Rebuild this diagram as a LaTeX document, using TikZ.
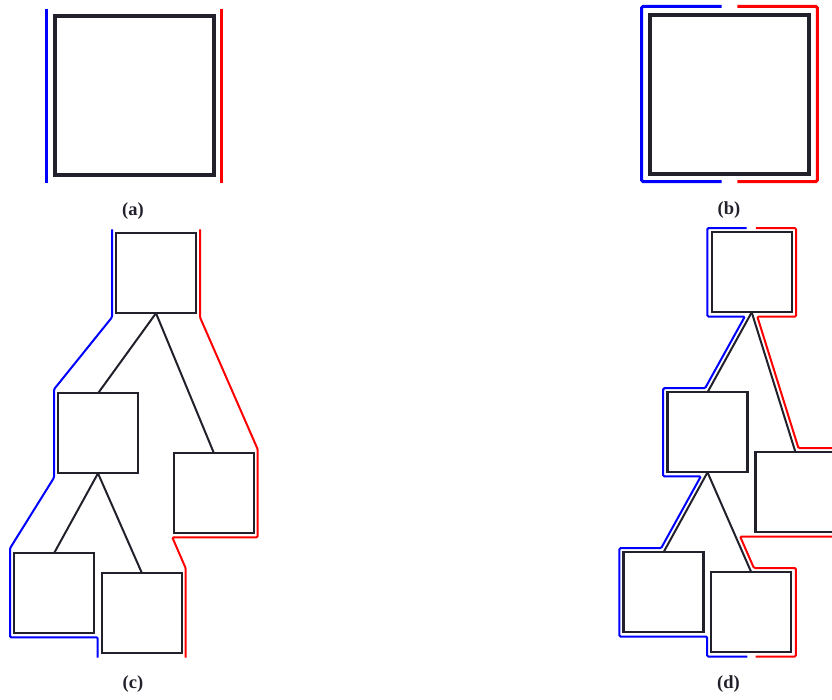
\documentclass[tikz,border=0pt]{standalone}
\usepackage{fontspec}
\newfontfamily\sublabelfamily{Liberation Serif}
\usetikzlibrary{calc}
\definecolor{boxline}{RGB}{34,32,42}
\definecolor{lcont}{RGB}{0,0,255}
\definecolor{rcont}{RGB}{255,0,0}
\tikzset{
  bigbox/.style={draw=boxline, line width=4pt, rectangle, minimum width=159pt, minimum height=159pt, inner sep=0pt, outer sep=0pt},
  treebox/.style={draw=boxline, line width=2.1pt, rectangle, minimum size=80pt, inner sep=0pt, outer sep=0pt},
  treeedge/.style={draw=boxline, line width=2pt},
  bigcont/.style={line width=3pt, rounded corners=1.5pt},
  smallcont/.style={line width=2pt, rounded corners=1.2pt},
  leftcont/.style={draw=lcont},
  rightcont/.style={draw=rcont},
  sublabel/.style={text=boxline, inner sep=0pt, scale=1.85, font=\sublabelfamily\bfseries}
}
\begin{document}
\begin{tikzpicture}[x=1pt, y=-1pt]
\useasboundingbox (0,0) rectangle (832,699);
\clip (0,0) rectangle (832,699);

% (a) a single box with a contour on each side
\node[bigbox] (A) at (134,95.5) {};
\draw[bigcont, leftcont]  (46.3,8.5) -- (46.3,183);
\draw[bigcont, rightcont] (221.5,8.5) -- (221.5,183);
\node[sublabel] (capA) at (133,211.5) {(a)};

% (b) a single box wrapped by two contours
\node[bigbox] (B) at (729.75,94) {};
\draw[bigcont, leftcont]  (721.7,6.3) -- (641.7,6.3) -- (641.7,181.7) -- (721.7,181.7);
\draw[bigcont, rightcont] (737.3,6.3) -- (817.3,6.3) -- (817.3,181.7) -- (737.3,181.7);
\node[sublabel] (capB) at (729,210) {(b)};

% (c) tree with coarse contours
\node[treebox] (c0) at (156,273.2) {};
\node[treebox] (c1) at (98,433.3) {};
\node[treebox] (c2) at (214,493.3) {};
\node[treebox] (c3) at (54,593.3) {};
\node[treebox] (c4) at (142,613.3) {};
\draw[treeedge] (c0.south) -- (c1.north);
\draw[treeedge] (c0.south) -- (c2.north);
\draw[treeedge] (c1.south) -- (c3.north);
\draw[treeedge] (c1.south) -- (c4.north);
\draw[smallcont, leftcont] (112,229.3) -- (112,317.3) -- (54,389.3) -- (54,477.7)
  -- (10,548.3) -- (10,637.3) -- (97.7,637.3) -- (97.7,657.7);
\draw[smallcont, rightcont] (200,229.3) -- (200,317.3) -- (257.7,449.3) -- (257.7,537.3)
  -- (172.3,537.3) -- (185.7,568.3) -- (185.7,657.7);
\node[sublabel] (capC) at (133,684) {(c)};

% (d) tree with tight contours
\node[treebox] (d0) at (751.7,272.3) {};
\node[treebox] (d1) at (707.5,432.3) {};
\node[treebox] (d2) at (795.5,492.3) {};
\node[treebox] (d3) at (663.5,592.3) {};
\node[treebox] (d4) at (751.3,612.3) {};
\draw[treeedge] (d0.south) -- (d1.north);
\draw[treeedge] (d0.south) -- (d2.north);
\draw[treeedge] (d1.south) -- (d3.north);
\draw[treeedge] (d1.south) -- (d4.north);
\draw[smallcont, leftcont] (746.7,228) -- (707.4,228) -- (707.4,316.6) -- (744.8,316.6)
  -- (705.1,388.2) -- (663.2,388.2) -- (663.2,476.4) -- (700.8,476.4)
  -- (661.1,548.2) -- (619.3,548.2) -- (619.3,636.5) -- (707.1,636.5)
  -- (707.1,656.6) -- (747.3,656.6);
\draw[smallcont, rightcont] (755.9,228) -- (796,228) -- (796,316.6) -- (757.3,316.6)
  -- (798.5,448.2) -- (839.8,448.2) -- (839.8,536.5) -- (740.1,536.5)
  -- (753.9,568) -- (795.8,568) -- (795.8,656.6) -- (755.7,656.6);
\node[sublabel] (capD) at (728.5,684) {(d)};
\end{tikzpicture}
\end{document}
